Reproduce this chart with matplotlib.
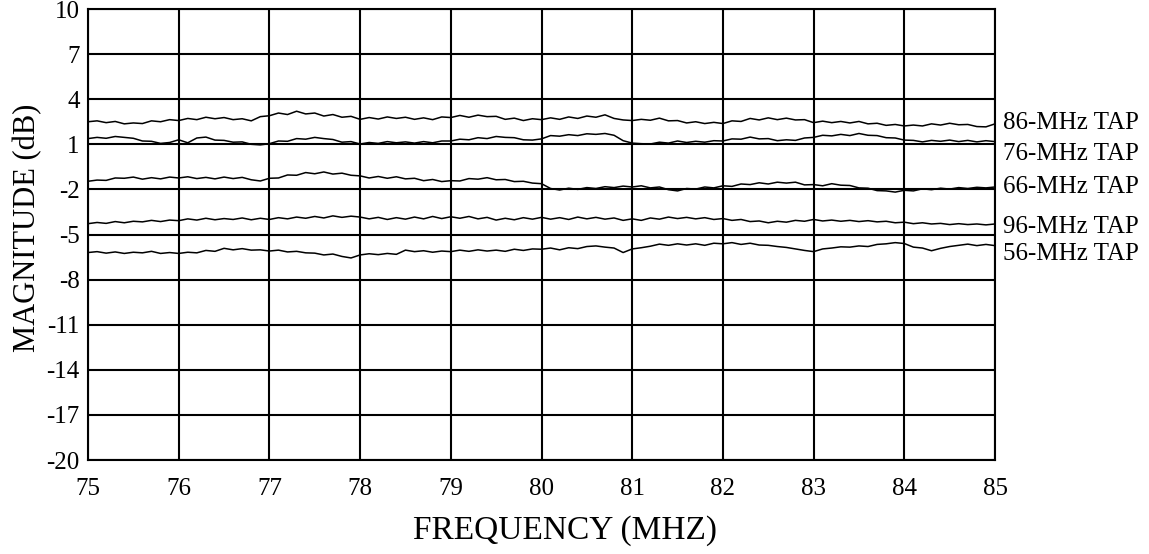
import numpy as np
import matplotlib

matplotlib.use("Agg")
from matplotlib import pyplot as plt

plt.rcParams["font.family"] = ["Liberation Serif", "DejaVu Serif"]
plt.rcParams["axes.unicode_minus"] = False

# sample points, 0.1 MHz apart
freq = np.round(np.arange(75.0, 85.001, 0.1), 1)

tap_86 = [
    2.50, 2.56, 2.44, 2.52, 2.36, 2.42, 2.38, 2.56, 2.50, 2.64,
    2.58, 2.72, 2.64, 2.80, 2.70, 2.78, 2.64, 2.70, 2.56, 2.84,
    2.90, 3.08, 2.98, 3.20, 3.02, 3.08, 2.88, 2.98, 2.80, 2.86,
    2.66, 2.78, 2.68, 2.82, 2.72, 2.80, 2.66, 2.76, 2.64, 2.82,
    2.78, 2.92, 2.80, 2.94, 2.84, 2.86, 2.66, 2.74, 2.58, 2.70,
    2.64, 2.76, 2.66, 2.82, 2.72, 2.88, 2.80, 2.96, 2.72, 2.62,
    2.58, 2.66, 2.60, 2.74, 2.56, 2.58, 2.42, 2.50, 2.38, 2.46,
    2.38, 2.56, 2.52, 2.72, 2.62, 2.76, 2.64, 2.74, 2.62, 2.64,
    2.44, 2.54, 2.44, 2.52, 2.42, 2.52, 2.36, 2.40, 2.26, 2.32,
    2.22, 2.28, 2.22, 2.36, 2.28, 2.40, 2.30, 2.32, 2.18, 2.16,
    2.36,
]
tap_76 = [
    1.38, 1.46, 1.40, 1.52, 1.46, 1.40, 1.22, 1.20, 1.06, 1.12,
    1.30, 1.10, 1.42, 1.48, 1.28, 1.26, 1.14, 1.16, 1.00, 0.96,
    1.04, 1.22, 1.20, 1.38, 1.34, 1.46, 1.38, 1.32, 1.14, 1.18,
    1.02, 1.12, 1.06, 1.18, 1.10, 1.16, 1.08, 1.18, 1.10, 1.22,
    1.22, 1.34, 1.30, 1.44, 1.38, 1.52, 1.46, 1.44, 1.30, 1.28,
    1.36, 1.58, 1.54, 1.64, 1.58, 1.70, 1.66, 1.72, 1.60, 1.24,
    1.08, 1.04, 1.02, 1.14, 1.08, 1.22, 1.12, 1.20, 1.14, 1.24,
    1.22, 1.36, 1.34, 1.48, 1.36, 1.38, 1.24, 1.30, 1.26, 1.42,
    1.46, 1.60, 1.56, 1.66, 1.58, 1.72, 1.60, 1.58, 1.44, 1.42,
    1.28, 1.26, 1.16, 1.26, 1.20, 1.28, 1.18, 1.26, 1.16, 1.24,
    1.18,
]
tap_66 = [
    -1.46, -1.38, -1.40, -1.24, -1.26, -1.18, -1.32, -1.22, -1.30, -1.18,
    -1.24, -1.16, -1.28, -1.20, -1.30, -1.18, -1.28, -1.20, -1.36, -1.44,
    -1.26, -1.24, -1.04, -1.06, -0.88, -0.96, -0.84, -0.98, -0.92, -1.06,
    -1.10, -1.24, -1.14, -1.26, -1.16, -1.30, -1.26, -1.42, -1.34, -1.48,
    -1.42, -1.44, -1.28, -1.32, -1.22, -1.36, -1.34, -1.48, -1.46, -1.58,
    -1.62, -1.94, -2.04, -1.92, -2.00, -1.88, -1.94, -1.82, -1.88, -1.78,
    -1.84, -1.76, -1.90, -1.84, -2.02, -2.10, -1.94, -1.98, -1.84, -1.90,
    -1.76, -1.80, -1.64, -1.68, -1.56, -1.64, -1.52, -1.58, -1.52, -1.70,
    -1.68, -1.76, -1.62, -1.72, -1.74, -1.90, -1.92, -2.08, -2.10, -2.18,
    -2.06, -2.10, -1.96, -2.02, -1.92, -1.98, -1.88, -1.94, -1.86, -1.90,
    -1.84,
]
tap_96 = [
    -4.28, -4.20, -4.26, -4.14, -4.22, -4.12, -4.16, -4.06, -4.14, -4.04,
    -4.08, -3.96, -4.04, -3.92, -4.02, -3.94, -4.00, -3.90, -4.02, -3.92,
    -4.00, -3.88, -3.96, -3.84, -3.92, -3.80, -3.90, -3.76, -3.86, -3.78,
    -3.84, -3.96, -3.86, -4.00, -3.88, -3.98, -3.84, -3.96, -3.80, -3.94,
    -3.82, -3.92, -3.80, -3.96, -3.86, -4.04, -3.92, -4.02, -3.88, -3.98,
    -3.86, -3.98, -3.88, -4.00, -3.84, -3.96, -3.86, -3.98, -3.90, -4.06,
    -3.96, -4.06, -3.90, -3.98, -3.84, -3.94, -3.86, -3.96, -3.88, -4.00,
    -3.94, -4.06, -4.00, -4.14, -4.10, -4.22, -4.12, -4.18, -4.06, -4.12,
    -4.00, -4.10, -4.04, -4.12, -4.06, -4.14, -4.08, -4.16, -4.12, -4.22,
    -4.18, -4.28, -4.22, -4.30, -4.26, -4.34, -4.28, -4.34, -4.30, -4.36,
    -4.30,
]
tap_56 = [
    -6.20, -6.14, -6.24, -6.16, -6.26, -6.18, -6.22, -6.12, -6.26, -6.20,
    -6.26, -6.18, -6.22, -6.06, -6.12, -5.92, -6.02, -5.94, -6.04, -6.02,
    -6.10, -6.04, -6.16, -6.12, -6.22, -6.24, -6.36, -6.30, -6.46, -6.56,
    -6.36, -6.28, -6.34, -6.26, -6.32, -6.04, -6.14, -6.08, -6.18, -6.10,
    -6.14, -6.04, -6.12, -6.02, -6.10, -6.04, -6.12, -5.98, -6.06, -5.96,
    -5.98, -5.90, -6.02, -5.88, -5.94, -5.80, -5.76, -5.84, -5.90, -6.20,
    -5.96, -5.88, -5.78, -5.64, -5.72, -5.62, -5.70, -5.62, -5.72, -5.58,
    -5.62, -5.54, -5.66, -5.58, -5.70, -5.72, -5.80, -5.86, -5.96, -6.06,
    -6.14, -5.96, -5.90, -5.82, -5.84, -5.76, -5.80, -5.66, -5.62, -5.54,
    -5.60, -5.84, -5.90, -6.08, -5.92, -5.80, -5.72, -5.64, -5.74, -5.66,
    -5.74,
]

series = [tap_86, tap_76, tap_66, tap_96, tap_56]
tap_labels = ["86-MHz TAP", "76-MHz TAP", "66-MHz TAP", "96-MHz TAP", "56-MHz TAP"]
label_y = [2.45, 0.35, -1.85, -4.5, -6.3]

x_ticks = list(range(75, 86))
y_ticks = list(range(-20, 11, 3))

fig = plt.figure(figsize=(11.49, 5.54), dpi=100)
fig.patch.set_facecolor("white")
ax = fig.add_axes([88 / 1149, 1 - 460 / 554, (995 - 88) / 1149, (460 - 9) / 554])

for values in series:
    ax.plot(freq, values, color="black", linewidth=1.1)

ax.set_xlim(75, 85)
ax.set_ylim(-20, 10)
ax.set_xticks(x_ticks)
ax.set_yticks(y_ticks)
ax.grid(True, color="black", linewidth=1.5)
ax.set_axisbelow(True)
for spine in ax.spines.values():
    spine.set_linewidth(1.5)
ax.tick_params(axis="both", length=0, labelsize=18)
ax.tick_params(axis="x", pad=13)
ax.tick_params(axis="y", pad=6)

for text, y in zip(tap_labels, label_y):
    ax.text(85.09, y, text, fontsize=18, ha="left", va="center", clip_on=False)

fig.text(28 / 1149, 1 - 228 / 554, "MAGNITUDE (dB)", rotation=90,
         ha="center", va="center", fontsize=22)
fig.text(565 / 1149, 1 - 531 / 554, "FREQUENCY (MHZ)",
         ha="center", va="center", fontsize=24)

fig.savefig("out.png", dpi=100)
plt.close(fig)
